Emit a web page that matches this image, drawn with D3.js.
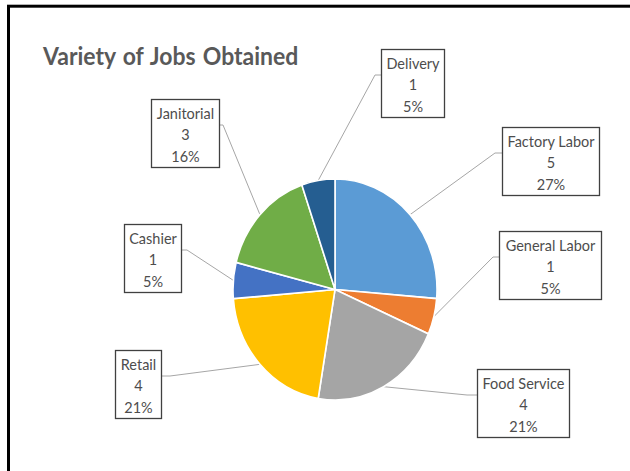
<!DOCTYPE html>
<html>
<head>
<meta charset="utf-8">
<script src="https://cdn.jsdelivr.net/npm/d3@7"></script>
<style>
  html, body { margin: 0; padding: 0; background: #fff; }
  svg { display: block; }
</style>
</head>
<body>
<svg id="chart" width="630" height="471"></svg>
<script>
// Job categories, counts and the percentage labels shown beside each slice
const categories = ["Factory Labor", "General Labor", "Food Service", "Retail", "Cashier", "Janitorial", "Delivery"];
const counts = [5, 1, 4, 4, 1, 3, 1];
const percentLabels = ["27%", "5%", "21%", "21%", "5%", "16%", "5%"];
const sliceColors = ["#5B9BD5", "#ED7D31", "#A5A5A5", "#FFC000", "#4472C4", "#70AD47", "#255E91"];

// Callout boxes: top-left corner, width, and the side the leader line attaches to
const callouts = {
  "Factory Labor": { x: 502, y: 127, w: 97, side: "left", elbow: 7 },
  "General Labor": { x: 499, y: 231, w: 102, side: "left", elbow: 6 },
  "Food Service":  { x: 477, y: 369, w: 92, side: "left", elbow: 10 },
  "Retail":        { x: 115, y: 350, w: 46, side: "right", elbow: 9 },
  "Cashier":       { x: 124, y: 224, w: 57, side: "right", elbow: 6 },
  "Janitorial":    { x: 151, y: 99, w: 68, side: "right", elbow: 4 },
  "Delivery":      { x: 381, y: 49, w: 63, side: "left", elbow: 6 }
};

const svg = d3.select("#chart");
const fontFamily = "Lato, 'Open Sans', sans-serif";
const textStretch = 1.09;   // drawing is slightly taller than wide

// Frame
svg.append("rect")
  .attr("x", 8.5).attr("y", 6.2)
  .attr("width", 700).attr("height", 600)
  .attr("fill", "none").attr("stroke", "#000").attr("stroke-width", 3);

// Title
svg.append("text")
  .attr("transform", `translate(43,65) scale(1,${textStretch})`)
  .attr("font-family", fontFamily)
  .attr("font-weight", "bold")
  .attr("font-size", 23)
  .attr("word-spacing", 1.5)
  .attr("fill", "#595959")
  .text("Variety of Jobs Obtained");

// Pie geometry
const cx = 335, cy = 289.5, rx = 102, ry = 110.5;
const data = categories.map((c, i) => ({ name: c, value: counts[i], pct: percentLabels[i], color: sliceColors[i] }));
const pie = d3.pie().sort(null).value(d => d.value);
const arcs = pie(data);
const arc = d3.arc().innerRadius(0).outerRadius(rx);

// Leader lines (drawn below the pie)
const leaders = svg.append("g")
  .attr("fill", "none").attr("stroke", "#A6A6A6").attr("stroke-width", 1);

arcs.forEach(a => {
  const mid = (a.startAngle + a.endAngle) / 2;
  const px = cx + rx * Math.sin(mid);
  const py = cy - ry * Math.cos(mid);
  const b = callouts[a.data.name];
  const bx = b.side === "left" ? b.x : b.x + b.w;
  const by = b.y + 26;
  const ex = b.side === "left" ? bx - b.elbow : bx + b.elbow;
  leaders.append("path").attr("d", d3.line()([[px, py], [ex, by], [bx, by]]));
});

// Slices
svg.append("g")
  .attr("transform", `translate(${cx},${cy}) scale(1,${ry / rx})`)
  .selectAll("path")
  .data(arcs)
  .join("path")
  .attr("d", arc)
  .attr("fill", d => d.data.color)
  .attr("stroke", "#fff")
  .attr("stroke-width", 1.6);

// Callout boxes with name, count and percentage
const boxH = 68;
arcs.forEach(a => {
  const b = callouts[a.data.name];
  const g = svg.append("g");
  g.append("rect")
    .attr("x", b.x + 0.5).attr("y", b.y + 0.5)
    .attr("width", b.w).attr("height", boxH)
    .attr("fill", "#fff").attr("stroke", "#404040").attr("stroke-width", 1.3);
  const lines = [a.data.name, String(a.data.value), a.data.pct];
  lines.forEach((t, i) => {
    g.append("text")
      .attr("transform", `translate(${b.x + b.w / 2 + 0.5},${b.y + 19.5 + i * 21.5}) scale(1,${textStretch})`)
      .attr("text-anchor", "middle")
      .attr("font-family", fontFamily)
      .attr("font-size", 14.5)
      .attr("fill", "#4d4d4d")
      .text(t);
  });
});
</script>
</body>
</html>
